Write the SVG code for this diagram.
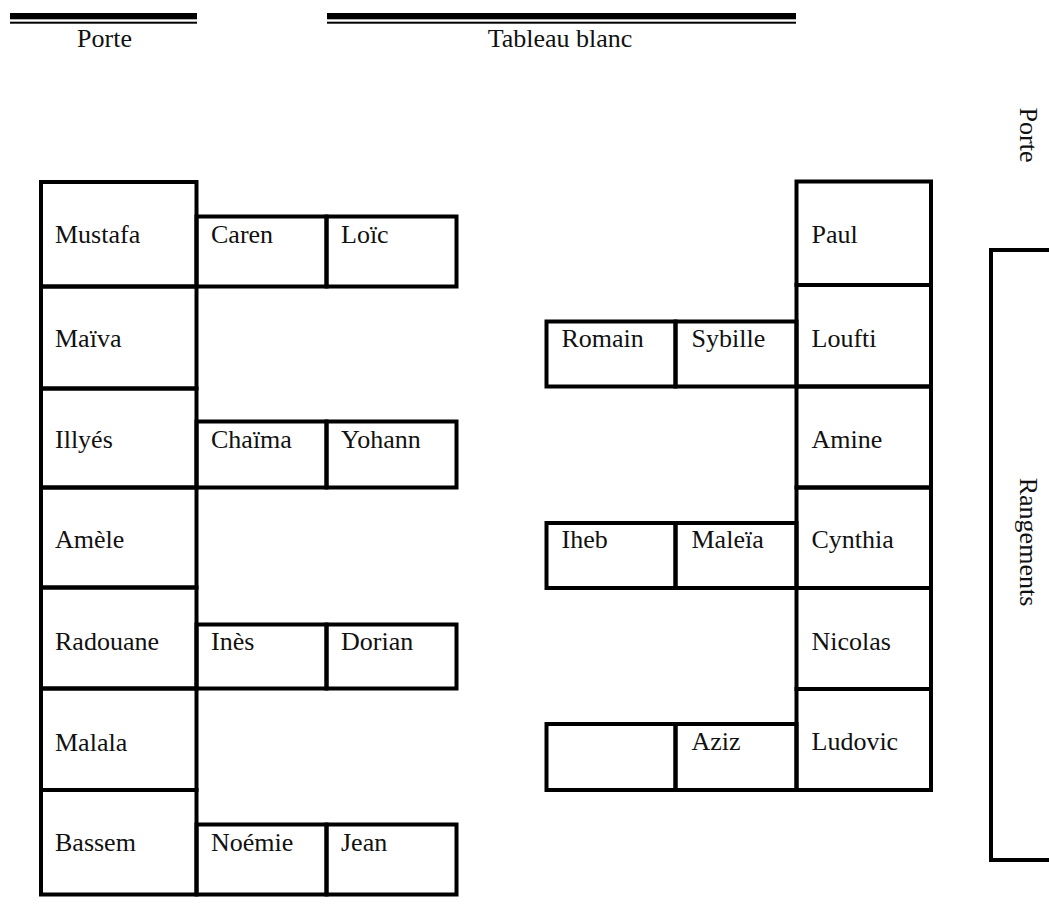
<svg xmlns="http://www.w3.org/2000/svg" width="1049" height="924" viewBox="0 0 1049 924">
<style>
.b{fill:none;stroke:#000;stroke-width:4}
.t{font-family:"Liberation Serif","Times New Roman",serif;font-size:26px;fill:#111}
.m{text-anchor:middle}
.bar{fill:#000}
</style>
<rect width="1049" height="924" fill="#fff"/>
<g id="porte-top">
<rect class="bar" x="10" y="13" width="187" height="6.3"/>
<rect class="bar" x="10" y="21.7" width="187" height="2"/>
<text class="t m" x="104.5" y="47">Porte</text>
</g>
<g id="tableau">
<rect class="bar" x="327" y="13" width="469" height="6.3"/>
<rect class="bar" x="327" y="21.7" width="469" height="2"/>
<text class="t m" x="560" y="47">Tableau blanc</text>
</g>
<g id="porte-right">
<text class="t m" transform="translate(1020,135) rotate(90)">Porte</text>
</g>
<g id="rangements">
<path class="b" d="M1049,250 H991 V860 H1049"/>
<text class="t m" transform="translate(1020,542) rotate(90)">Rangements</text>
</g>
<g id="connectors"/>
<!-- left column -->
<g id="mustafa"><rect class="b" x="41" y="182" width="155.5" height="104.5"/><text class="t" x="55" y="243">Mustafa</text></g>
<g id="maiva"><rect class="b" x="41" y="286.5" width="155.5" height="102"/><text class="t" x="55" y="347">Maïva</text></g>
<g id="illyes"><rect class="b" x="41" y="388.5" width="155.5" height="99"/><text class="t" x="55" y="447.5">Illyés</text></g>
<g id="amele"><rect class="b" x="41" y="487.5" width="155.5" height="100"/><text class="t" x="55" y="548">Amèle</text></g>
<g id="radouane"><rect class="b" x="41" y="587.5" width="155.5" height="101"/><text class="t" x="55" y="649.5">Radouane</text></g>
<g id="malala"><rect class="b" x="41" y="688.5" width="155.5" height="101.5"/><text class="t" x="55" y="751">Malala</text></g>
<g id="bassem"><rect class="b" x="41" y="790" width="155.5" height="104.5"/><text class="t" x="55" y="850.5">Bassem</text></g>
<!-- left pairs -->
<g id="caren"><rect class="b" x="196.5" y="216.5" width="130" height="70"/><text class="t" x="211" y="243">Caren</text></g>
<g id="loic"><rect class="b" x="326.5" y="216.5" width="130" height="70"/><text class="t" x="341" y="243">Loïc</text></g>
<g id="chaima"><rect class="b" x="196.5" y="421.5" width="130" height="66"/><text class="t" x="211" y="447.5">Chaïma</text></g>
<g id="yohann"><rect class="b" x="326.5" y="421.5" width="130" height="66"/><text class="t" x="341" y="447.5">Yohann</text></g>
<g id="ines"><rect class="b" x="196.5" y="624.5" width="130" height="64"/><text class="t" x="211" y="649.5">Inès</text></g>
<g id="dorian"><rect class="b" x="326.5" y="624.5" width="130" height="64"/><text class="t" x="341" y="649.5">Dorian</text></g>
<g id="noemie"><rect class="b" x="196.5" y="824.5" width="130" height="70"/><text class="t" x="211" y="850.5">Noémie</text></g>
<g id="jean"><rect class="b" x="326.5" y="824.5" width="130" height="70"/><text class="t" x="341" y="850.5">Jean</text></g>
<!-- right column -->
<g id="paul"><rect class="b" x="796.5" y="181.5" width="134.5" height="103.5"/><text class="t" x="811.5" y="243">Paul</text></g>
<g id="loufti"><rect class="b" x="796.5" y="285" width="134.5" height="101.5"/><text class="t" x="811.5" y="347">Loufti</text></g>
<g id="amine"><rect class="b" x="796.5" y="386.5" width="134.5" height="101"/><text class="t" x="811.5" y="447.5">Amine</text></g>
<g id="cynthia"><rect class="b" x="796.5" y="487.5" width="134.5" height="100.5"/><text class="t" x="811.5" y="548">Cynthia</text></g>
<g id="nicolas"><rect class="b" x="796.5" y="588" width="134.5" height="101"/><text class="t" x="811.5" y="649.5">Nicolas</text></g>
<g id="ludovic"><rect class="b" x="796.5" y="689" width="134.5" height="101"/><text class="t" x="811.5" y="750">Ludovic</text></g>
<!-- right pairs -->
<g id="romain"><rect class="b" x="546.5" y="321.5" width="129" height="65"/><text class="t" x="561.5" y="347">Romain</text></g>
<g id="sybille"><rect class="b" x="675.5" y="321.5" width="121" height="65"/><text class="t" x="691.5" y="347">Sybille</text></g>
<g id="iheb"><rect class="b" x="546.5" y="523" width="129" height="65"/><text class="t" x="561.5" y="548">Iheb</text></g>
<g id="maleia"><rect class="b" x="675.5" y="523" width="121" height="65"/><text class="t" x="691.5" y="548">Maleïa</text></g>
<g id="empty-seat"><rect class="b" x="546.5" y="724" width="129" height="66"/></g>
<g id="aziz"><rect class="b" x="675.5" y="724" width="121" height="66"/><text class="t" x="691.5" y="750">Aziz</text></g>
</svg>
